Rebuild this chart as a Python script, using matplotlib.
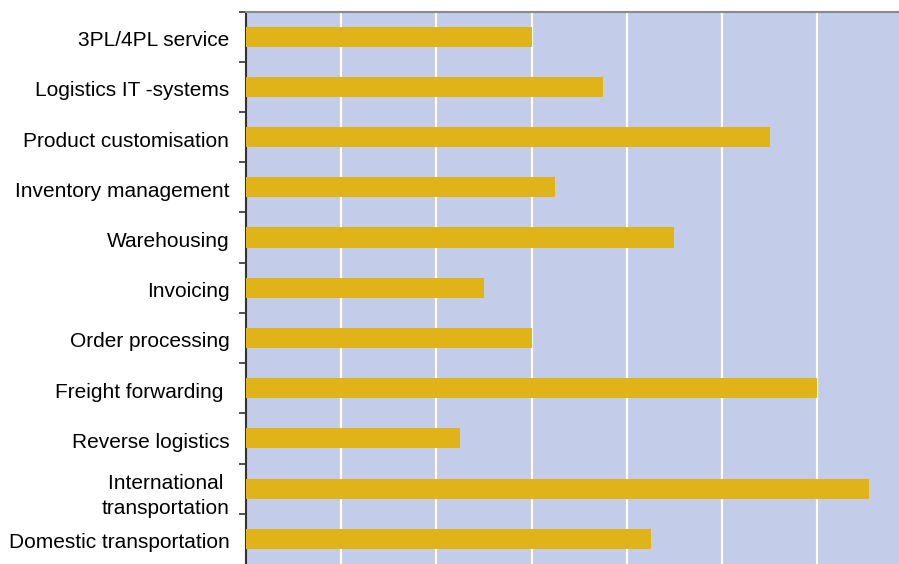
import matplotlib.pyplot as plt
import matplotlib.transforms as mtransforms
import numpy as np

services = [
    "3PL/4PL service",
    "Logistics IT -systems",
    "Product customisation",
    "Inventory management",
    "Warehousing",
    "Invoicing",
    "Order processing",
    "Freight forwarding ",
    "Reverse logistics",
    "International \ntransportation",
    "Domestic transportation",
]
scores = [3.0, 3.75, 5.5, 3.25, 4.5, 2.5, 3.0, 6.0, 2.25, 6.55, 4.25]

plt.rcParams['font.family'] = ['Liberation Sans', 'DejaVu Sans']

fig = plt.figure(figsize=(8.99, 5.64), dpi=100)
ax = fig.add_axes([246 / 899, 0.0, 1 - 246 / 899, 1 - 11.5 / 564])

y = np.arange(len(services))
ax.set_facecolor('#c3cce8')
ax.barh(y, scores, height=0.4, color='#e0b418', zorder=3)

ax.set_xlim(0, 6.86)
ax.set_ylim(len(services) - 0.5, -0.5)
ax.set_xticks(np.arange(1, 7))
ax.xaxis.grid(True, color='white', linewidth=1.6, zorder=1)
ax.tick_params(axis='x', length=0, labelbottom=False)

ax.set_yticks(y)
ax.set_yticklabels(services, fontsize=15)
ax.tick_params(axis='y', which='major', length=0, pad=12)
ax.set_yticks(np.arange(-0.5, len(services) - 1, 1), minor=True)
ax.tick_params(axis='y', which='minor', length=5, width=1.2, color='#333333', direction='out')

# nudge the category labels down a little, open up the two-line one
shift = mtransforms.ScaledTranslation(0, -2 / 100, fig.dpi_scale_trans)
for lbl in ax.get_yticklabels():
    lbl.set_transform(lbl.get_transform() + shift)
    if '\n' in lbl.get_text():
        lbl.set_linespacing(1.4)

for s in ['right', 'bottom']:
    ax.spines[s].set_visible(False)
ax.spines['top'].set_color('#8a8a8a')
ax.spines['top'].set_linewidth(1.5)
ax.spines['left'].set_color('#333333')
ax.spines['left'].set_linewidth(1.5)

fig.savefig('out.png', dpi=100)
